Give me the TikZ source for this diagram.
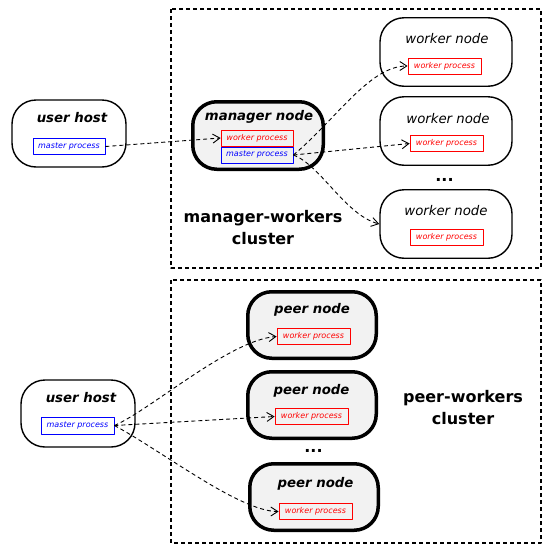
\documentclass[tikz,border=0pt]{standalone}
\usepackage{fontspec}
\setmainfont{DejaVu Sans}
\usetikzlibrary{arrows.meta}
\definecolor{procred}{HTML}{FF0000}
\definecolor{procblue}{HTML}{0000FF}
\definecolor{nodegray}{HTML}{F2F2F2}
\tikzset{
    hostbox/.style={
        draw, rounded corners=24pt, line width=1.4pt,
        minimum width=114pt, minimum height=67pt, inner sep=0pt
    },
    heavybox/.style={
        hostbox, line width=3.5pt, fill=nodegray
    },
    proc/.style={
        draw, line width=0.8pt, inner sep=0pt,
        minimum width=72pt, minimum height=16pt,
        font=\fontsize{8}{9}\selectfont\itshape
    },
    wproc/.style={proc, color=procred},
    mproc/.style={proc, color=procblue},
    title/.style={font=\fontsize{13.3}{16}\selectfont\bfseries\itshape},
    ltitle/.style={font=\fontsize{13.3}{16}\selectfont\itshape},
    lab/.style={font=\fontsize{16}{22}\selectfont\bfseries, align=center},
    link/.style={->, line width=0.9pt, dash pattern=on 4pt off 3pt},
    cluster/.style={line width=2pt, dash pattern=on 4pt off 3pt}
}

\begin{document}
\begin{tikzpicture}[x=1pt, y=-1pt, line join=round, >={Straight Barb[length=7pt,width=9pt]}]

\useasboundingbox (0,0) rectangle (542,544);

% clusters
\draw[cluster] (171,9) rectangle (541,268);
\draw[cluster] (171,280) rectangle (541,543);

% manager-workers
\node[hostbox] (uh1) at (69,133.5) {};
\node[title] at (72,118) {user host};
\node[mproc] (um1) at (69,146.5) {master process};

\node[heavybox, minimum width=130.5pt, minimum height=67.5pt] (mgr) at (258,135.5) {};
\node[title] at (259,117) {manager node};
\node[wproc] (mw) at (257,138) {worker process};
\node[mproc] (mm) at (257,155) {master process};

\node[hostbox, minimum width=132pt, minimum height=68.5pt] (w1) at (446,52) {};
\node[ltitle] at (447,39) {worker node};
\node[wproc, minimum width=73pt] (w1p) at (444.5,66) {worker process};

\node[hostbox, minimum width=132pt, minimum height=68.5pt] (w2) at (446,131) {};
\node[ltitle] at (448,119) {worker node};
\node[wproc, minimum width=73pt] (w2p) at (446.5,143.5) {worker process};

\node[hostbox, minimum width=132pt, minimum height=68.5pt] (w3) at (446,224) {};
\node[ltitle] at (446,211) {worker node};
\node[wproc, minimum width=73pt] (w3p) at (446.5,237.5) {worker process};

\node[lab, anchor=base] (dots1) at (444.5,181) {...};
\node[lab] (mwlab) at (263,228) {manager-workers\\cluster};

\draw[link] (um1.east) -- (mw.west);
\draw[link] (mm.east) .. controls +(42,-35) and +(-38,0) .. (w1p.west);
\draw[link] (mm.east) -- (w2p.west);
\draw[link] (mm.east) .. controls +(27,10) and +(-34,-9) .. (w3.west);

% peer-workers
\node[hostbox] (uh2) at (78,413.5) {};
\node[title] at (81,397.5) {user host};
\node[mproc, minimum width=73pt, minimum height=17pt] (um2) at (77.5,425.5) {master process};

\node[heavybox, minimum width=128.5pt, minimum height=66.5pt] (p1) at (312,325) {};
\node[title] at (312,310) {peer node};
\node[wproc, minimum width=73pt] (p1p) at (313.5,336.5) {worker process};

\node[heavybox, minimum width=128.5pt, minimum height=66.5pt] (p2) at (312,405) {};
\node[title] at (311.5,391) {peer node};
\node[wproc, minimum width=73pt] (p2p) at (311.5,416.5) {worker process};

\node[heavybox, minimum width=128.5pt, minimum height=66.5pt] (p3) at (314,497) {};
\node[title] at (315.5,484) {peer node};
\node[wproc, minimum width=73pt] (p3p) at (315.5,511.5) {worker process};

\node[lab, anchor=base] (dots2) at (313.5,452.5) {...};
\node[lab] (pwlab) at (463,408) {peer-workers\\cluster};

\draw[link] (um2.east) .. controls +(36,-15.5) and +(-47,3.5) .. (p1p.west);
\draw[link] (um2.east) -- (p2p.west);
\draw[link] (um2.east) .. controls +(46,24.5) and +(-39,0) .. (p3p.west);

\end{tikzpicture}
\end{document}
